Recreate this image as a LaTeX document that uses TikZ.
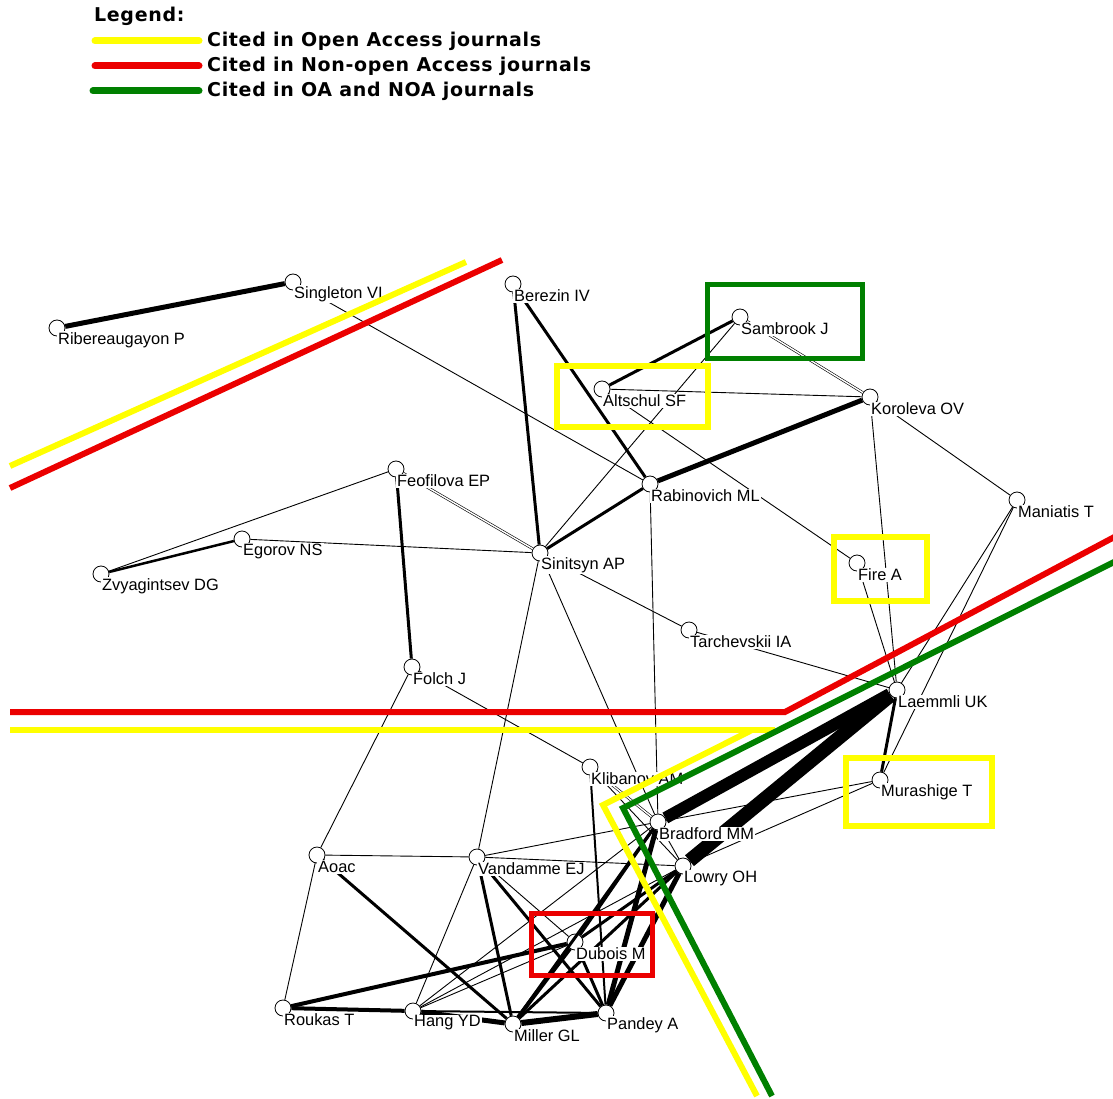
\documentclass[tikz,border=0pt]{standalone}
\usepackage{fontspec}
\setmainfont{Liberation Sans}
\newfontfamily\legendfont[LetterSpace=3.5]{DejaVu Sans}
\usepackage{tikz}
\definecolor{oayel}{RGB}{255,255,0}
\definecolor{noared}{RGB}{235,0,0}
\definecolor{bothgrn}{RGB}{0,128,0}
\tikzset{
  vert/.style={circle,draw,fill=white,line width=0.8pt,minimum size=16pt,inner sep=0pt},
  lbl/.style={anchor=west,fill=white,inner sep=1pt,font=\fontsize{16.4}{18}\selectfont},
  pairline/.style={double,double distance=1.4pt,line width=0.6pt},
  hilite/.style={line width=6pt,line join=miter},
  legline/.style={line width=7pt,line cap=round},
  legtxt/.style={anchor=west,inner sep=0pt,font=\legendfont\bfseries\fontsize{19}{22}\selectfont}
}

\begin{document}
\begin{tikzpicture}[x=1pt,y=-1pt]
                \useasboundingbox (0,0) rectangle (1113,1099);

                %legend
                \node[legtxt] (leghead) at (94,16) {Legend:};
                \node[legtxt] (legoa) at (207,41) {Cited in Open Access journals};
                \node[legtxt] (legnoa) at (207,66) {Cited in Non-open Access journals};
                \node[legtxt] (legboth) at (207,91) {Cited in OA and NOA journals};
                \draw[legline,oayel] (95,41) -- (199,41);
                \draw[legline,noared] (95,66) -- (199,66);
                \draw[legline,bothgrn] (93,91) -- (199,91);

                %authors (circles)
                \foreach \nm/\x/\y in {sing/293/282, ribe/57/328, bere/513/284, samb/740/317,
                    alts/602/389, koro/870/397, rabi/650/484, feof/396/469, egor/242/539,
                    zvya/101/574, sini/540/553, mani/1017/500, fire/857/563, tarc/689/630,
                    folc/412/667, laem/897/690, klib/590/767, mura/880/780, brad/658/822,
                    aoac/317/855, vand/477/857, lowr/683/866, dubo/575/942, rouk/283/1008,
                    hang/413/1011, mill/513/1024, pand/606/1013}
                    \node[vert] (\nm) at (\x,\y) {};

                %co-citation links, width = strength
                \foreach \a/\b/\w in {ribe/sing/5, sing/rabi/0.9, bere/sini/3, bere/rabi/3,
                    samb/alts/3, samb/sini/0.9, alts/koro/0.9, alts/fire/0.9, koro/rabi/5,
                    koro/mani/0.9, koro/laem/0.9, rabi/sini/3, rabi/brad/0.9, feof/zvya/0.9,
                    feof/folc/3, egor/zvya/2.5, egor/sini/0.9, sini/tarc/0.9, sini/vand/0.9,
                    sini/brad/0.9, tarc/laem/0.9, fire/laem/0.9, mani/laem/0.9, mani/mura/0.9,
                    laem/mura/3, laem/brad/12, laem/lowr/14, mura/brad/0.9, mura/lowr/0.9,
                    folc/aoac/0.9, folc/klib/0.9, aoac/vand/0.9, aoac/rouk/0.9, aoac/mill/3,
                    vand/brad/0.9, vand/lowr/0.9, vand/hang/0.9, vand/mill/3, vand/pand/3,
                    vand/dubo/0.9, klib/pand/2, klib/lowr/0.9, brad/lowr/0.9, brad/dubo/3,
                    lowr/dubo/3, brad/mill/3, lowr/mill/3, brad/pand/5, lowr/pand/5,
                    dubo/pand/3, dubo/mill/4, dubo/rouk/4, rouk/hang/4, hang/mill/5,
                    mill/pand/6, hang/dubo/0.9, hang/brad/0.9, hang/lowr/0.9, hang/pand/2}
                    \draw[line width=\w pt] (\a) -- (\b);
                \foreach \a/\b in {samb/koro, feof/sini, klib/brad}
                    \draw[pairline] (\a) -- (\b);

                %names
                \foreach \nm/\txt in {sing/Singleton VI, ribe/Ribereaugayon P, bere/Berezin IV,
                    samb/Sambrook J, alts/Altschul SF, koro/Koroleva OV, rabi/Rabinovich ML,
                    feof/Feofilova EP, egor/Egorov NS, zvya/Zvyagintsev DG, sini/Sinitsyn AP,
                    mani/Maniatis T, fire/Fire A, tarc/Tarchevskii IA, folc/Folch J,
                    laem/Laemmli UK, klib/Klibanov AM, mura/Murashige T, brad/Bradford MM,
                    aoac/Aoac, vand/Vandamme EJ, lowr/Lowry OH, dubo/Dubois M,
                    rouk/Roukas T, hang/Hang YD, mill/Miller GL, pand/Pandey A}
                    \node[lbl] (\nm-l) at ([shift={(0,12)}]\nm.center) {\txt};

                %dividing lines
                \draw[hilite,oayel] (10,466) -- (466,262);
                \draw[hilite,noared] (10,488) -- (502,260);
                \draw[hilite,noared] (10,712) -- (785,712) -- (1120,534);
                \draw[hilite,oayel] (10,730) -- (775,730);
                \draw[hilite,oayel] (752,730) -- (603,805) -- (757,1096);
                \draw[hilite,bothgrn] (1120,559) -- (623,808) -- (772,1096);

                %boxes
                \draw[line width=5pt,bothgrn] (707,284) rectangle (862,358);
                \draw[line width=5.5pt,oayel] (557,366) rectangle (708,427);
                \draw[line width=5.5pt,oayel] (834,537) rectangle (927,601);
                \draw[line width=5.5pt,oayel] (846,758) rectangle (992,826);
                \draw[line width=5pt,noared] (531,913) rectangle (652,975);
\end{tikzpicture}
\end{document}
